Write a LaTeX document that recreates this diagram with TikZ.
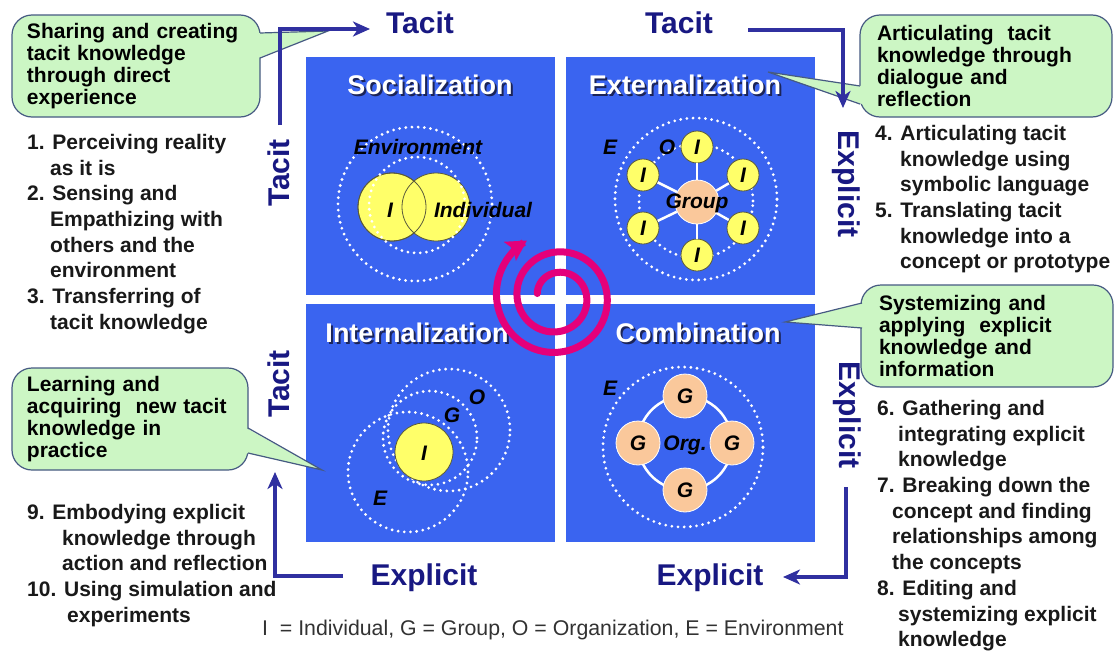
\documentclass[tikz,border=0pt]{standalone}
\usepackage{fontspec}
\setmainfont{Liberation Sans}
\usetikzlibrary{arrows.meta,calc}
\definecolor{quadblue}{RGB}{58,100,240}
\definecolor{navyline}{RGB}{48,48,160}
\definecolor{navytext}{RGB}{24,24,130}
\definecolor{bubblefill}{RGB}{204,246,196}
\definecolor{bubbleedge}{RGB}{70,90,130}
\definecolor{spiralpink}{RGB}{228,0,122}
\definecolor{venny}{RGB}{255,255,105}
\definecolor{peach}{RGB}{250,200,155}
\definecolor{listtext}{RGB}{25,25,25}
\definecolor{shadowc}{RGB}{20,20,50}
\begin{document}
\begin{tikzpicture}[x=1pt,y=-1pt,
 quad/.style={fill=quadblue, minimum width=249pt, minimum height=238pt, inner sep=0pt, draw=none},
 qtitle/.style={text=white, font=\fontsize{27}{30}\selectfont\bfseries, inner sep=0pt},
 qshadow/.style={text=shadowc, font=\fontsize{27}{30}\selectfont\bfseries, inner sep=0pt, opacity=0.8},
 axislabel/.style={text=navytext, font=\fontsize{30}{32}\selectfont\bfseries, inner sep=0pt},
 axisarrow/.style={draw=navyline, line width=4.5pt, line join=miter, -{Stealth[length=17pt,width=15pt,inset=5pt]}},
 dotring/.style={draw=white, line width=3.1pt, dash pattern=on 0pt off 6.2pt, line cap=round},
 lab/.style={font=\fontsize{21}{22}\selectfont\bfseries\itshape, inner sep=0pt},
 yball/.style={circle, fill=venny, draw={rgb,255:red,90;green,90;blue,60}, line width=0.8pt, inner sep=0pt},
 gball/.style={circle, fill=peach, draw=white, line width=0.8pt, inner sep=0pt, minimum size=44pt},
 bubble/.style={fill=bubblefill, draw=bubbleedge, line width=1.2pt, rounded corners=20pt, align=left, font=\fontsize{21}{22}\selectfont\bfseries, text=black, inner ysep=4pt, minimum height=102pt},
 bubbleptr/.style={fill=bubblefill},
 bubbleline/.style={draw=bubbleedge, line width=1.2pt, line join=miter},
 listnode/.style={align=left, font=\fontsize{21}{25.7}\selectfont\bfseries, text=listtext, inner sep=0pt, anchor=north west},
 spoke/.style={draw=white, line width=2.5pt},
]
\fill[white] (0,0) rectangle (1114,656);
\useasboundingbox (0,0) rectangle (1114,656);

% quadrants
\node[quad] (q1) at (430.5,176) {};
\node[quad] (q2) at (690.5,176) {};
\node[quad] (q3) at (430.5,423) {};
\node[quad] (q4) at (690.5,423) {};

% titles
\node[qshadow] (t1s) at (432,87) {Socialization};
\node[qtitle] (t1) at (430,85) {Socialization};
\node[qshadow] (t2s) at (687,87) {Externalization};
\node[qtitle] (t2) at (685,85) {Externalization};
\node[qshadow] (t3s) at (419,335) {Internalization};
\node[qtitle] (t3) at (417,333) {Internalization};
\node[qshadow] (t4s) at (700,335) {Combination};
\node[qtitle] (t4) at (698,333) {Combination};

% Socialization
\node[yball, minimum size=68pt] (sI) at (392,207) {};
\node[yball, minimum size=68pt] (sInd) at (436,207) {};
\draw[draw={rgb,255:red,90;green,90;blue,60}, line width=0.8pt] (392,207) circle[radius=34pt];
\draw[dotring] (415,204) circle[radius=77pt];
\draw[dotring] (417,205) circle[radius=48pt];
\node[lab] (sEnv) at (418,147) {Environment};
\node[lab] (sIl) at (390,210) {I};
\node[lab] (sIndl) at (483,210) {Individual};

% Externalization
\draw[dotring] (696,199) circle[radius=81pt];
\draw[dotring] (696,201) circle[radius=57pt];
\coordinate (gc) at (697,202);
\node[yball, minimum size=32pt] (i1) at (697,147) {};
\node[yball, minimum size=32pt] (i2) at (743,175) {};
\node[yball, minimum size=32pt] (i3) at (743,228) {};
\node[yball, minimum size=32pt] (i4) at (697,255) {};
\node[yball, minimum size=32pt] (i5) at (643,228) {};
\node[yball, minimum size=32pt] (i6) at (643,175) {};
\node[gball] (grp) at (gc) {};
\foreach \k in {1,...,6} {\draw[spoke] (grp) -- (i\k);}
\foreach \k in {1,...,6} {\node[lab] at (i\k) {I};}
\node[lab] (grpl) at (697,203) {Group};
\node[lab] (eE) at (610,147) {E};
\node[lab] (eO) at (667,147) {O};

% Internalization
\draw[dotring] (408,472) circle[radius=60pt];
\draw[dotring] (449,430) circle[radius=61pt];
\draw[dotring] (430,438) circle[radius=47pt];
\node[yball, minimum size=58pt] (iI) at (424,452) {};
\node[lab] (iIl) at (424,453) {I};
\node[lab] (iO) at (477,397) {O};
\node[lab] (iG) at (452,415) {G};
\node[lab] (iE) at (380,498) {E};

% Combination
\draw[dotring] (683,447) circle[radius=80pt];
\draw[draw=white, line width=2.5pt] (685,443) circle[radius=47pt];
\node[gball] (g1) at (685,396) {};
\node[gball] (g2) at (638,443) {};
\node[gball] (g3) at (732,443) {};
\node[gball] (g4) at (685,490) {};
\foreach \k in {1,...,4} {\node[lab] at (g\k) {G};}
\node[lab] (org) at (685,445) {Org.};
\node[lab] (cE) at (610,388) {E};

% spiral
\draw[spiralpink, line width=7pt, line cap=round, -{Stealth[length=20pt,width=22pt,inset=4pt]}]
  plot[smooth, samples=160, domain=190:962, variable=\t]
  ({557+(20+0.057*(\t-190))*cos(\t)}, {297+(20+0.057*(\t-190))*sin(\t)});

% callouts
\node[bubble, text width=218pt, inner xsep=15pt] (c1) at (136,66)
  {Sharing and creating\\tacit knowledge\\through direct\\experience};
\coordinate (c1a) at (258,33); \coordinate (c1b) at (258,58); \coordinate (c1t) at (328,31);
\fill[bubbleptr] (c1a) -- (c1t) -- (c1b) -- cycle;
\draw[bubbleline] ($(c1a)+(2,0)$) -- (c1t) -- ($(c1b)+(2,0)$);

\node[bubble, text width=218pt, inner xsep=17pt] (c2) at (986,66)
  {Articulating~ tacit\\knowledge through\\dialogue and\\reflection};
\coordinate (c2a) at (862,86); \coordinate (c2b) at (862,104); \coordinate (c2t) at (768,72);
\fill[bubbleptr] (c2a) -- (c2t) -- (c2b) -- cycle;
\draw[bubbleline] ($(c2a)+(-2,0)$) -- (c2t) -- ($(c2b)+(-2,0)$);

\node[bubble, text width=216pt, inner xsep=18pt] (c3) at (987,336)
  {Systemizing and\\applying~ explicit\\knowledge and\\information};
\coordinate (c3a) at (864,303); \coordinate (c3b) at (864,328); \coordinate (c3t) at (785,322);
\fill[bubbleptr] (c3a) -- (c3t) -- (c3b) -- cycle;
\draw[bubbleline] ($(c3a)+(-2,0)$) -- (c3t) -- ($(c3b)+(-2,0)$);

\node[bubble, text width=206pt, inner xsep=15pt] (c4) at (130,419)
  {Learning and\\acquiring~ new tacit\\knowledge in\\practice};
\coordinate (c4a) at (246,428); \coordinate (c4b) at (246,453); \coordinate (c4t) at (322,470);
\fill[bubbleptr] (c4a) -- (c4t) -- (c4b) -- cycle;
\draw[bubbleline] ($(c4a)+(2,0)$) -- (c4t) -- ($(c4b)+(2,0)$);

% axis arrows
\coordinate (a1s) at (280,125); \coordinate (a1c) at (280,29); \coordinate (a1e) at (370,29);
\draw[axisarrow] (a1s) -- (a1c) -- (a1e);
\coordinate (a2s) at (748,30); \coordinate (a2c) at (843,30); \coordinate (a2e) at (843,108);
\draw[axisarrow] (a2s) -- (a2c) -- (a2e);
\coordinate (a3s) at (846,487); \coordinate (a3c) at (846,577); \coordinate (a3e) at (783,577);
\draw[axisarrow] (a3s) -- (a3c) -- (a3e);
\coordinate (a4s) at (343,576); \coordinate (a4c) at (275,576); \coordinate (a4e) at (275,472);
\draw[axisarrow] (a4s) -- (a4c) -- (a4e);

% axis labels
\node[axislabel] (xT1) at (420,23) {Tacit};
\node[axislabel] (xT2) at (679,23) {Tacit};
\node[axislabel, rotate=90] (xT3) at (279,173) {Tacit};
\node[axislabel, rotate=90] (xT4) at (279,384) {Tacit};
\node[axislabel, rotate=-90] (xE1) at (846,184) {Explicit};
\node[axislabel, rotate=-90] (xE2) at (847,415) {Explicit};
\node[axislabel] (xE3) at (424,578) {Explicit};
\node[axislabel] (xE4) at (710,578) {Explicit};

% lists
\node[listnode] (l1) at (27,134) {1. Perceiving reality\\\hspace*{23pt}as it is\\2. Sensing and\\\hspace*{23pt}Empathizing with\\\hspace*{23pt}others and the\\\hspace*{23pt}environment\\3. Transferring of\\\hspace*{23pt}tacit knowledge};
\node[listnode] (l2) at (875,125) {4. Articulating tacit\\\hspace*{25pt}knowledge using\\\hspace*{25pt}symbolic language\\5. Translating tacit\\\hspace*{25pt}knowledge into a\\\hspace*{25pt}concept or prototype};
\node[listnode] (l3) at (877,400) {6. Gathering and\\\hspace*{21pt}integrating explicit\\\hspace*{21pt}knowledge\\7. Breaking down the\\\hspace*{15pt}concept and finding\\\hspace*{15pt}relationships among\\\hspace*{15pt}the concepts\\8. Editing and\\\hspace*{21pt}systemizing explicit\\\hspace*{21pt}knowledge};
\node[listnode] (l4) at (27,504) {9. Embodying explicit\\\hspace*{35pt}knowledge through\\\hspace*{35pt}action and reflection\\10. Using simulation and\\\hspace*{40pt}experiments};

% legend
\node[anchor=west, inner sep=0pt, font=\fontsize{21.3}{24}\selectfont, text={rgb,255:red,50;green,50;blue,50}] (legend) at (262,630)
  {I~ = Individual, G = Group, O = Organization, E = Environment};
\end{tikzpicture}
\end{document}
